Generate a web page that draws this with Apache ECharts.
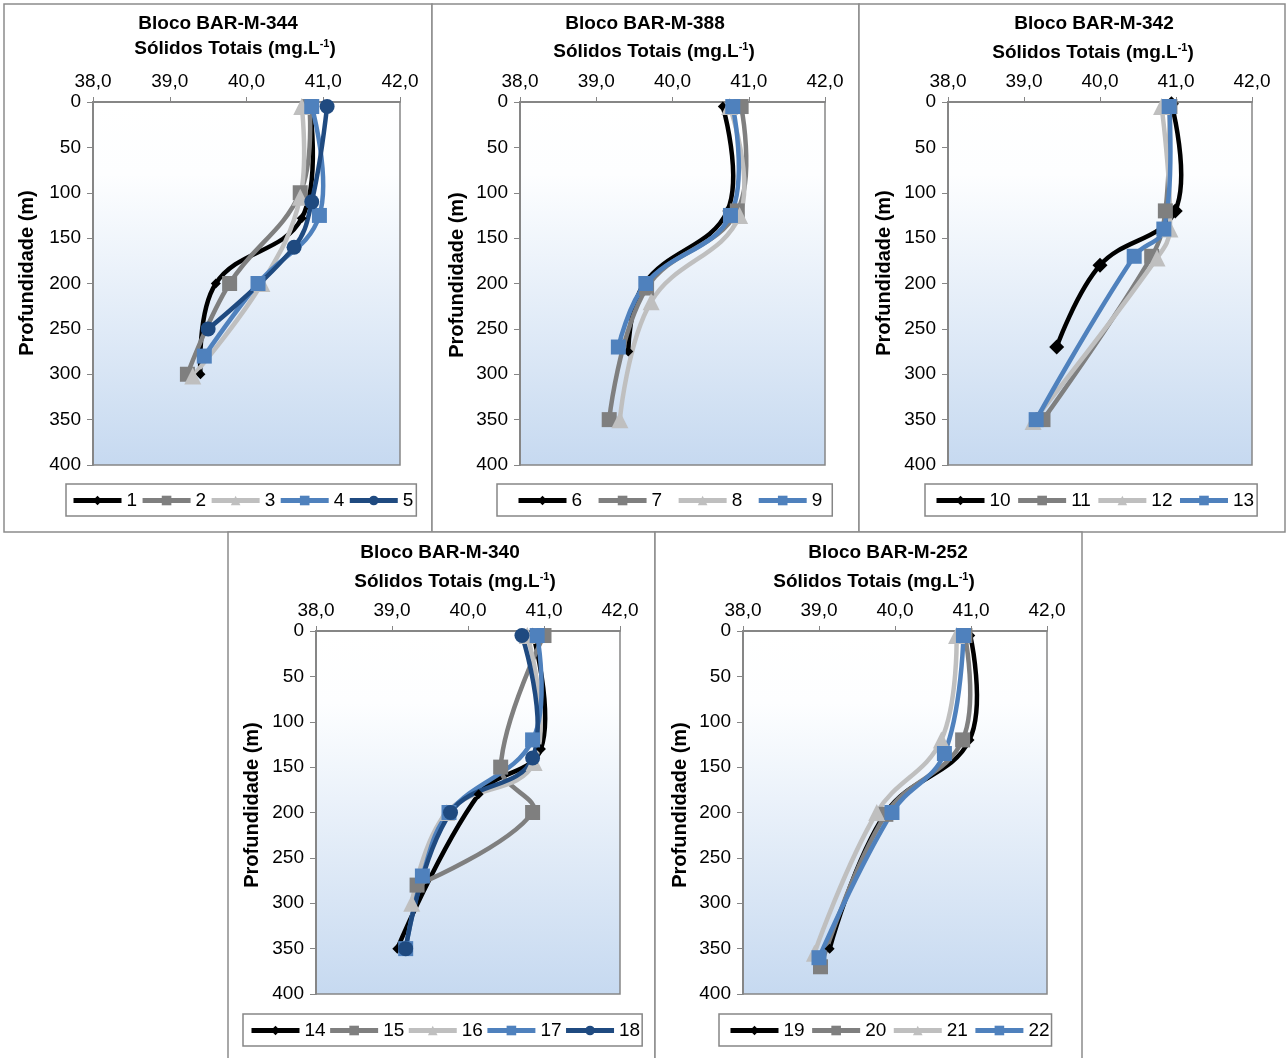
<!DOCTYPE html>
<html>
<head>
<meta charset="utf-8">
<script src="https://cdn.jsdelivr.net/npm/echarts@6/dist/echarts.min.js"></script>
<style>
  html, body { margin: 0; padding: 0; background: #ffffff; }
  #chart { width: 1286px; height: 1058px; }
</style>
</head>
<body>
<div id="chart"></div>
<script>
// Perfis de sólidos totais (mg/L) por profundidade (m): pares [valor, profundidade]
const blocos = ['Bloco BAR-M-344', 'Bloco BAR-M-388', 'Bloco BAR-M-342', 'Bloco BAR-M-340', 'Bloco BAR-M-252'];
const estacoes = [
  ['1', '2', '3', '4', '5'],
  ['6', '7', '8', '9'],
  ['10', '11', '12', '13'],
  ['14', '15', '16', '17', '18'],
  ['19', '20', '21', '22']
];

const p1 = [[40.82, 3], [40.72, 128], [39.60, 200], [39.40, 300]];
const p2 = [[40.82, 5], [40.70, 100], [39.78, 200], [39.23, 300]];
const p3 = [[40.72, 5], [40.70, 105], [40.20, 200], [39.30, 302]];
const p4 = [[40.85, 5], [40.95, 125], [40.15, 200], [39.45, 280]];
const p5 = [[41.05, 5], [40.85, 110], [40.62, 160], [39.50, 250]];

const p6 = [[40.66, 5], [40.72, 120], [39.63, 200], [39.42, 275]];
const p7 = [[40.90, 5], [40.85, 120], [39.66, 205], [39.17, 350]];
const p8 = [[40.75, 5], [40.88, 125], [39.72, 220], [39.31, 350]];
const p9 = [[40.79, 5], [40.76, 125], [39.65, 200], [39.29, 270]];

const p10 = [[40.94, 2], [40.99, 120], [40.00, 180], [39.43, 270]];
const p11 = [[40.92, 5], [40.86, 120], [40.68, 170], [39.25, 350]];
const p12 = [[40.81, 5], [40.92, 140], [40.75, 172], [39.12, 352]];
const p13 = [[40.91, 5], [40.84, 140], [40.45, 170], [39.16, 350]];

const p14 = [[40.85, 2], [40.96, 130], [40.14, 180], [39.07, 350]];
const p15 = [[41.00, 5], [40.43, 150], [40.85, 200], [39.33, 280]];
const p16 = [[40.78, 5], [40.87, 145], [39.72, 200], [39.26, 300]];
const p17 = [[40.91, 5], [40.85, 120], [39.75, 200], [39.40, 270], [39.18, 350]];
const p18 = [[40.71, 5], [40.85, 140], [39.77, 200], [39.18, 350]];

const p19 = [[40.99, 5], [40.98, 120], [39.88, 200], [39.14, 350]];
const p20 = [[40.92, 5], [40.89, 120], [39.88, 202], [39.02, 370]];
const p21 = [[40.81, 5], [40.61, 120], [39.76, 200], [38.94, 355]];
const p22 = [[40.90, 5], [40.65, 135], [39.96, 200], [39.00, 360]];

const perfis = [
  [p1, p2, p3, p4, p5],
  [p6, p7, p8, p9],
  [p10, p11, p12, p13],
  [p14, p15, p16, p17, p18],
  [p19, p20, p21, p22]
];

// Eixos
const xMin = 38, xMax = 42, xStep = 1;
const yMin = 0, yMax = 400, yStep = 50;

// Layout de cada painel; leg = [esquerda, topo, margem esq., margem dir., espaço entre itens]
const layout = [
  { box: [4, 4, 428, 528],   plot: [93, 102, 307, 363],  t1: [218, 24],  t2: [235, 49],  yName: [27, 273],  leg: [66, 484, 5, 3, 3] },
  { box: [432, 4, 427, 528], plot: [520, 102, 305, 363], t1: [645, 24],  t2: [654, 52],  yName: [457, 275], leg: [497, 484, 19, 10, 14] },
  { box: [859, 4, 426, 528], plot: [948, 102, 304, 363], t1: [1094, 24], t2: [1093, 53], yName: [884, 273], leg: [925, 484, 9, 3, 5] },
  { box: [228, 532, 427, 540], plot: [316, 631, 304, 363], t1: [440, 553], t2: [455, 582], yName: [252, 805], leg: [243, 1014, 6, 2, 2] },
  { box: [655, 532, 427, 540], plot: [743, 631, 304, 363], t1: [888, 553], t2: [874, 582], yName: [680, 805], leg: [719, 1014, 9, 2, 5] }
];

// Estilos das séries (posição dentro do painel)
const estilos = [
  { color: '#000000', symbol: 'diamond',  size: 10 },
  { color: '#7f7f7f', symbol: 'rect',     size: 15 },
  { color: '#bfbfbf', symbol: 'triangle', size: 17 },
  { color: '#4f81bd', symbol: 'rect',     size: 15 },
  { color: '#1f4a80', symbol: 'circle',   size: 15 }
];

const FONT = '"Liberation Sans", Arial, sans-serif';
const AXIS = '#868686';
const LINE_W = 4.5;
const SUAVE = 0.4;

const fmt = v => v.toFixed(1).replace('.', ',');

const grids = [], xAxes = [], yAxes = [], series = [], legends = [], graphics = [];

layout.forEach((L, i) => {
  graphics.push({
    type: 'rect', silent: true, z: -10,
    shape: { x: L.box[0], y: L.box[1], width: L.box[2], height: L.box[3] },
    style: { fill: '#ffffff', stroke: '#8c8c8c', lineWidth: 1.5 }
  });
  graphics.push({
    type: 'text', x: L.t1[0], y: L.t1[1], z: 10,
    style: { text: blocos[i], font: 'bold 19px ' + FONT, fill: '#000', align: 'center', verticalAlign: 'middle' }
  });
  graphics.push({
    type: 'text', x: L.t2[0], y: L.t2[1], z: 10,
    style: {
      text: '{a|Sólidos Totais (mg.L}{s|-1}{a|)}',
      align: 'center', verticalAlign: 'middle',
      rich: {
        a: { fontFamily: FONT, fontWeight: 'bold', fontSize: 19, fill: '#000', lineHeight: 22 },
        s: { fontFamily: FONT, fontWeight: 'bold', fontSize: 11, fill: '#000', lineHeight: 14, verticalAlign: 'top' }
      }
    }
  });
  graphics.push({
    type: 'text', x: L.yName[0], y: L.yName[1], rotation: Math.PI / 2, z: 10,
    style: { text: 'Profundidade (m)', font: 'bold 20px ' + FONT, fill: '#000', align: 'center', verticalAlign: 'middle' }
  });

  grids.push({
    left: L.plot[0], top: L.plot[1], width: L.plot[2], height: L.plot[3],
    show: true, borderColor: AXIS, borderWidth: 1.5,
    backgroundColor: {
      type: 'linear', x: 0, y: 0, x2: 0, y2: 1,
      colorStops: [
        { offset: 0, color: '#ffffff' },
        { offset: 0.2, color: '#fdfeff' },
        { offset: 1, color: '#c6d9f0' }
      ]
    }
  });
  xAxes.push({
    type: 'value', gridIndex: i, position: 'top',
    min: xMin, max: xMax, interval: xStep,
    axisLine: { show: true, lineStyle: { color: AXIS, width: 2 } },
    axisTick: { show: true, inside: false, length: 5, lineStyle: { color: AXIS, width: 1 } },
    axisLabel: { formatter: fmt, fontSize: 19, fontFamily: FONT, color: '#000', margin: 11 },
    splitLine: { show: false }
  });
  yAxes.push({
    type: 'value', gridIndex: i, inverse: true,
    min: yMin, max: yMax, interval: yStep,
    axisLine: { show: true, lineStyle: { color: AXIS, width: 2 } },
    axisTick: { show: true, inside: false, length: 6, lineStyle: { color: AXIS, width: 1 } },
    axisLabel: { fontSize: 19, fontFamily: FONT, color: '#000', margin: 12 },
    splitLine: { show: false }
  });

  const nomes = estacoes[i];
  nomes.forEach((nome, k) => {
    const st = estilos[k];
    const perfil = perfis[i][k];
    let size = st.size;
    if (k === 0 && i === 2) size = 15;

    // Curva suavizada (Bézier) passando pelos pontos do perfil
    series.push({
      type: 'custom', xAxisIndex: i, yAxisIndex: i,
      data: [perfil[0]],
      silent: true, animation: false,
      renderItem: (params, api) => ({
        type: 'polyline',
        shape: { points: perfil.map(p => api.coord(p)), smooth: SUAVE },
        style: { stroke: st.color, lineWidth: LINE_W, fill: null, lineJoin: 'round', lineCap: 'round' }
      })
    });

    // Marcadores da série (e item de legenda)
    series.push({
      type: 'line', name: nome, xAxisIndex: i, yAxisIndex: i,
      data: perfil,
      symbol: st.symbol, symbolSize: size, showAllSymbol: true,
      lineStyle: { color: st.color, width: LINE_W, opacity: 0 },
      itemStyle: { color: st.color },
      emphasis: { disabled: true },
      animation: false
    });
  });

  const lg = L.leg;
  legends.push({
    data: nomes,
    left: lg[0], top: lg[1],
    orient: 'horizontal',
    borderColor: AXIS, borderWidth: 1.5,
    padding: [7, lg[3], 6, lg[2]],
    itemWidth: 48, itemHeight: 12, itemGap: lg[4],
    lineStyle: { width: 5, opacity: 1 },
    textStyle: { fontSize: 19, fontFamily: FONT, color: '#000' },
    selectedMode: false
  });
});

const chart = echarts.init(document.getElementById('chart'), null, { renderer: 'canvas' });
chart.setOption({
  animation: false,
  backgroundColor: '#ffffff',
  grid: grids,
  xAxis: xAxes,
  yAxis: yAxes,
  legend: legends,
  series: series,
  graphic: graphics
});
</script>
</body>
</html>
